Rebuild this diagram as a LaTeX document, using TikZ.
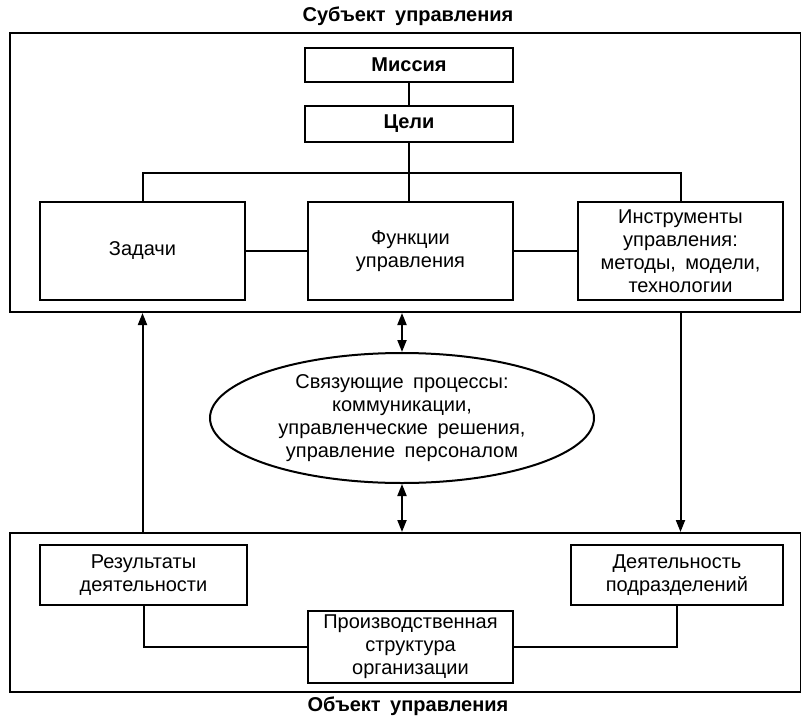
\documentclass[tikz,border=0pt]{standalone}
\usepackage{fontspec}
\setmainfont{Liberation Sans}[WordSpace=1.7]
\usetikzlibrary{arrows.meta,shapes.geometric}
\tikzset{
  blok/.style={draw, line width=2pt, align=center, inner sep=2pt, font=\fontsize{20}{23}\selectfont},
  zagl/.style={font=\fontsize{20}{23}\selectfont\bfseries},
  ramka/.style={draw, line width=2pt, inner sep=0pt},
  svyaz/.style={line width=2pt},
  strelka/.style={line width=2pt, -{Triangle[length=12pt,width=9pt]}},
  dvestrelki/.style={line width=2pt, {Triangle[length=12pt,width=9pt]}-{Triangle[length=12pt,width=9pt]}}
}
\begin{document}
\begin{tikzpicture}[x=1pt,y=-1pt]
\useasboundingbox (0,0) rectangle (801,718);

% Субъект управления
\node[zagl] (subj) at (408,16) {Субъект управления};
\node[ramka, minimum width=791pt, minimum height=279pt] (verh) at (405.5,172.5) {};
\node[blok, minimum width=208pt, minimum height=34pt] (mis) at (409,65) {\bfseries Миссия};
\node[blok, minimum width=208pt, minimum height=36pt] (celi) at (409,124) {\bfseries Цели};
\coordinate (shina) at (409,173);

% Три блока
\node[blok, minimum width=205pt, minimum height=98pt] (zad) at (142.5,251) {Задачи};
\node[blok, minimum width=205pt, minimum height=98pt] (fun) at (410.5,251) {Функции\\управления};
\node[blok, minimum width=205pt, minimum height=98pt] (ins) at (680.5,251) {Инструменты\\управления:\\методы, модели,\\технологии};

\draw[svyaz] (mis) -- (celi);
\draw[svyaz] (celi) -- (shina);
\draw[svyaz] (zad.north) |- (shina) -| (ins.north);
\draw[svyaz] (shina) -- (shina |- fun.north);
\draw[svyaz] (zad) -- (fun);
\draw[svyaz] (fun) -- (ins);

% Связующие процессы
\node[blok, ellipse, inner sep=0pt, minimum width=384pt, minimum height=130pt] (oval) at (402,418)
  {Связующие процессы:\\коммуникации,\\управленческие решения,\\управление персоналом};

% Объект управления
\node[ramka, minimum width=791pt, minimum height=159pt] (niz) at (405.5,612.5) {};
\node[blok, minimum width=207pt, minimum height=60pt] (rez) at (143.5,575) {Результаты\\деятельности};
\node[blok, minimum width=212pt, minimum height=60pt] (dey) at (677,575) {Деятельность\\подразделений};
\node[blok, minimum width=205pt, minimum height=72pt] (proizv) at (410.5,647) {Производственная\\структура\\организации};
\node[zagl] (obj) at (408,706) {Объект управления};

\draw[svyaz] (rez.south) |- (proizv.west);
\draw[svyaz] (dey.south) |- (proizv.east);

% Стрелки между уровнями
\draw[strelka] (niz.north -| zad) -- (verh.south -| zad);
\draw[strelka] (verh.south -| ins) -- (niz.north -| ins);
\draw[dvestrelki] (verh.south -| oval.north) -- (oval.north);
\draw[dvestrelki] (oval.south) -- (niz.north -| oval.south);

\end{tikzpicture}
\end{document}
